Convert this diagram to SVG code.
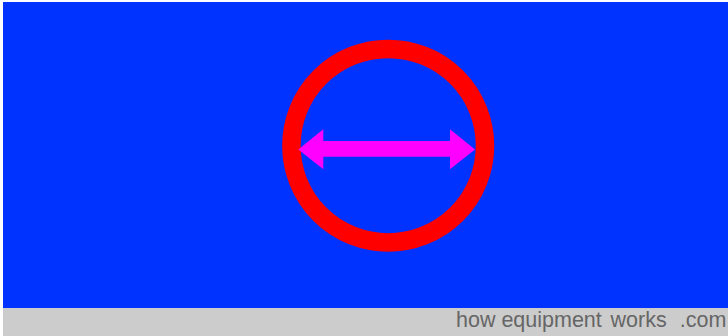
<svg xmlns="http://www.w3.org/2000/svg" width="728" height="336" viewBox="0 0 728 336">
<style>
.ring{fill:none;stroke:#ff0000;stroke-width:18.5}
.arrow{fill:#ff00ff}
.footer{font-family:"Liberation Sans",Arial,sans-serif;font-size:21.5px;fill:#666666}
</style>
<rect x="0" y="0" width="728" height="336" fill="#ffffff"/>
<rect x="3" y="2" width="725" height="306" fill="#0033ff"/>
<rect x="3" y="308" width="725" height="28" fill="#cccccc"/>
<g id="ring"><circle class="ring" cx="388.2" cy="145.7" r="96.8"/></g>
<g id="arrow"><polygon class="arrow" points="298.3,149.5 323.3,129.3 323.3,141 450,141 450,129.3 475,149.5 450,169.3 450,156.7 323.3,156.7 323.3,169.3"/></g>
<g id="footer">
<text class="footer" x="456" y="327.3">how</text>
<text class="footer" x="501.4" y="327.3">equipment</text>
<text class="footer" x="610.5" y="327.3">works</text>
<text class="footer" x="679.8" y="327.3">.com</text>
</g>
</svg>
